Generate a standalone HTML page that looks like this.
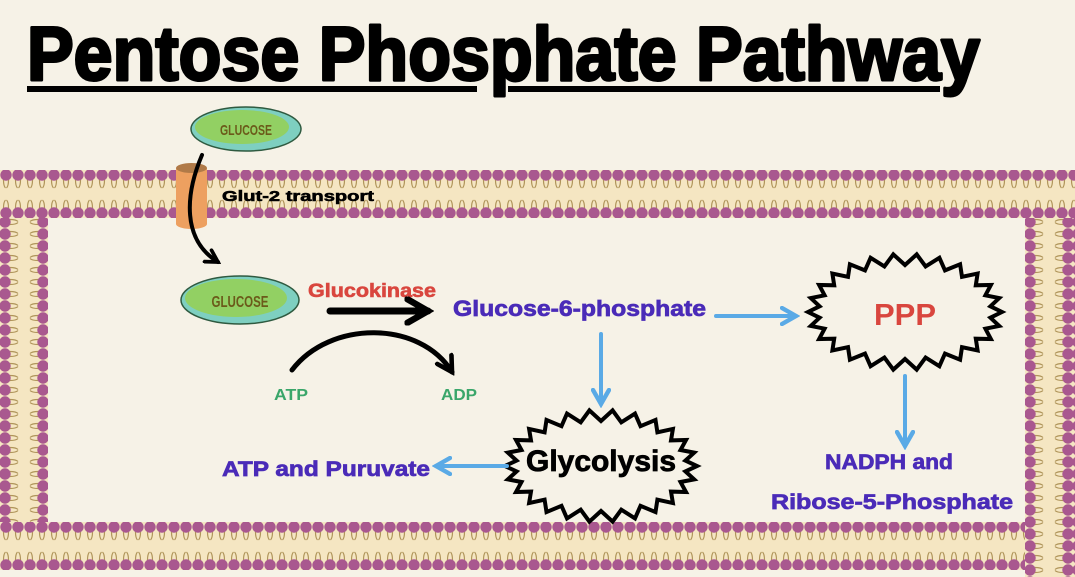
<!DOCTYPE html>
<html><head><meta charset="utf-8"><style>
html,body{margin:0;padding:0;background:#f6f2e7;}
svg{display:block;}
text{font-family:"Liberation Sans","DejaVu Sans",sans-serif;font-weight:bold;}
</style></head><body>
<svg id="s" width="1075" height="577" viewBox="0 0 1075 577" xmlns="http://www.w3.org/2000/svg">
<defs>
<pattern id="hm" x="0" y="170" width="12" height="48" patternUnits="userSpaceOnUse">
<rect width="12" height="48" fill="#f5e6c2"/>
<path d="M3.5 10 q0 6 2 8 M8.5 10 q0 6 -2 8 M3.5 38 q0 -6 2 -8 M8.5 38 q0 -6 -2 -8" stroke="#b0955a" stroke-width="1.2" fill="none"/>
<circle cx="6" cy="5" r="5.7" fill="#a9588f"/><circle cx="6" cy="43" r="5.7" fill="#a9588f"/>
</pattern>
<pattern id="hm2" x="0" y="522" width="12" height="48" patternUnits="userSpaceOnUse">
<rect width="12" height="48" fill="#f5e6c2"/>
<path d="M3.5 10 q0 6 2 8 M8.5 10 q0 6 -2 8 M3.5 38 q0 -6 2 -8 M8.5 38 q0 -6 -2 -8" stroke="#b0955a" stroke-width="1.2" fill="none"/>
<circle cx="6" cy="5" r="5.7" fill="#a9588f"/><circle cx="6" cy="43" r="5.7" fill="#a9588f"/>
</pattern>
<pattern id="vm" x="0" y="0" width="48" height="12" patternUnits="userSpaceOnUse">
<rect width="48" height="12" fill="#f5e6c2"/>
<path d="M10 3.5 q6 0 8 2 M10 8.5 q6 0 8 -2 M38 3.5 q-6 0 -8 2 M38 8.5 q-6 0 -8 -2" stroke="#b0955a" stroke-width="1.2" fill="none"/>
<circle cx="5" cy="6" r="5.7" fill="#a9588f"/><circle cx="43" cy="6" r="5.7" fill="#a9588f"/>
</pattern>
<pattern id="vm2" x="1025" y="0" width="48" height="12" patternUnits="userSpaceOnUse">
<rect width="48" height="12" fill="#f5e6c2"/>
<path d="M10 3.5 q6 0 8 2 M10 8.5 q6 0 8 -2 M38 3.5 q-6 0 -8 2 M38 8.5 q-6 0 -8 -2" stroke="#b0955a" stroke-width="1.2" fill="none"/>
<circle cx="5" cy="6" r="5.7" fill="#a9588f"/><circle cx="43" cy="6" r="5.7" fill="#a9588f"/>
</pattern>
<marker id="ab" viewBox="0 0 10 10" refX="8" refY="5" markerWidth="5" markerHeight="5" orient="auto"><path d="M1 1 L8 5 L1 9" fill="none" stroke="#5aaae6" stroke-width="2.2" stroke-linecap="round"/></marker>
<marker id="ak" viewBox="0 0 10 10" refX="8" refY="5" markerWidth="4.2" markerHeight="4.2" orient="auto"><path d="M1 1 L8 5 L1 9" fill="none" stroke="#000" stroke-width="2.2" stroke-linecap="round"/></marker>
</defs>
<rect width="1075" height="577" fill="#f6f2e7"/>
<text x="27" y="80" font-size="76" textLength="953" lengthAdjust="spacingAndGlyphs" stroke="#000" stroke-width="3" stroke-linejoin="round">Pentose Phosphate Pathway</text>
<rect x="27" y="86" width="450" height="6" fill="#000"/>
<rect x="508" y="86" width="432" height="6" fill="#000"/>
<rect x="0" y="200" width="48" height="335" fill="url(#vm)"/>
<rect x="1025" y="195" width="50" height="382" fill="url(#vm2)"/>
<rect x="0" y="170" width="1075" height="48" fill="url(#hm)"/>
<rect x="0" y="522" width="1025" height="48" fill="url(#hm2)"/>
<rect x="176" y="168" width="31" height="56" fill="#eda060"/>
<ellipse cx="191.5" cy="224" rx="15.5" ry="5" fill="#eda060"/>
<ellipse cx="191.5" cy="168" rx="15.5" ry="5" fill="#b07a48"/>
<ellipse cx="246" cy="129" rx="55" ry="22" fill="#7ecfc0" stroke="#2f5a40" stroke-width="1.5"/>
<ellipse cx="242" cy="127" rx="47" ry="17" fill="#92d063"/>
<text x="246" y="135" font-size="15" fill="#6b5a1a" text-anchor="middle" textLength="52" lengthAdjust="spacingAndGlyphs">GLUCOSE</text>
<ellipse cx="240" cy="300" rx="59" ry="24" fill="#7ecfc0" stroke="#2f5a40" stroke-width="1.5"/>
<ellipse cx="236" cy="298" rx="51" ry="19" fill="#92d063"/>
<text x="240" y="307" font-size="16" fill="#6b5a1a" text-anchor="middle" textLength="57" lengthAdjust="spacingAndGlyphs">GLUCOSE</text>
<path d="M202 155 C185 195 182 240 218 262" fill="none" stroke="#000" stroke-width="4" stroke-linecap="round" marker-end="url(#ak)"/>
<text x="222" y="201" font-size="15" fill="#000" textLength="152" lengthAdjust="spacingAndGlyphs" stroke="#000" stroke-width="0.6">Glut-2 transport</text>
<text x="308" y="297" font-size="19" fill="#d9463e" textLength="128" lengthAdjust="spacingAndGlyphs" stroke="#d9463e" stroke-width="0.6">Glucokinase</text>
<path d="M330 311 L428 311" stroke="#000" stroke-width="7" stroke-linecap="round" marker-end="url(#ak)"/>
<path d="M292 370 C330 320 420 320 452 372" fill="none" stroke="#000" stroke-width="5" stroke-linecap="round" marker-end="url(#ak)"/>
<text x="274" y="400" font-size="16" fill="#3aa66a" textLength="34" lengthAdjust="spacingAndGlyphs">ATP</text>
<text x="441" y="400" font-size="16" fill="#3aa66a" textLength="36" lengthAdjust="spacingAndGlyphs">ADP</text>
<text x="453" y="316" font-size="22" fill="#4a2bb8" textLength="253" lengthAdjust="spacingAndGlyphs" stroke="#4a2bb8" stroke-width="0.7">Glucose-6-phosphate</text>
<path d="M716 316 L796 316" stroke="#5aaae6" stroke-width="4" stroke-linecap="round" marker-end="url(#ab)"/>
<path d="M601 334 L601 404" stroke="#5aaae6" stroke-width="4" stroke-linecap="round" marker-end="url(#ab)"/>
<polygon id="z1" fill="#f6f2e7" stroke="#000" stroke-width="4" stroke-linejoin="miter"/>
<polygon id="z2" fill="#f6f2e7" stroke="#000" stroke-width="4" stroke-linejoin="miter"/>
<text x="905" y="325" font-size="31" fill="#d9463e" text-anchor="middle" textLength="62" lengthAdjust="spacingAndGlyphs">PPP</text>
<text x="601" y="471" font-size="30" fill="#000" text-anchor="middle" textLength="150" lengthAdjust="spacingAndGlyphs" stroke="#000" stroke-width="0.8">Glycolysis</text>
<path d="M905 376 L905 446" stroke="#5aaae6" stroke-width="4" stroke-linecap="round" marker-end="url(#ab)"/>
<text x="825" y="469" font-size="21" fill="#4a2bb8" textLength="128" lengthAdjust="spacingAndGlyphs" stroke="#4a2bb8" stroke-width="0.7">NADPH and</text>
<text x="771" y="509" font-size="21" fill="#4a2bb8" textLength="242" lengthAdjust="spacingAndGlyphs" stroke="#4a2bb8" stroke-width="0.7">Ribose-5-Phosphate</text>
<path d="M507 466 L436 466" stroke="#5aaae6" stroke-width="4" stroke-linecap="round" marker-end="url(#ab)"/>
<text x="222" y="476" font-size="21" fill="#4a2bb8" textLength="208" lengthAdjust="spacingAndGlyphs" stroke="#4a2bb8" stroke-width="0.7">ATP and Puruvate</text>
</svg>
<script>
function zig(id,cx,cy,rx,ry,n,d){var p=[];for(var i=0;i<2*n;i++){var a=Math.PI*i/n;var k=i%2;var x=cx+(rx-(k?d:0))*Math.cos(a),y=cy+(ry-(k?d:0))*Math.sin(a);p.push(x.toFixed(1)+","+y.toFixed(1));}document.getElementById(id).setAttribute("points",p.join(" "));}
zig("z1",905,312,97,58,26,11);
zig("z2",601,466,96,56,26,11);
</script>
</body></html>
